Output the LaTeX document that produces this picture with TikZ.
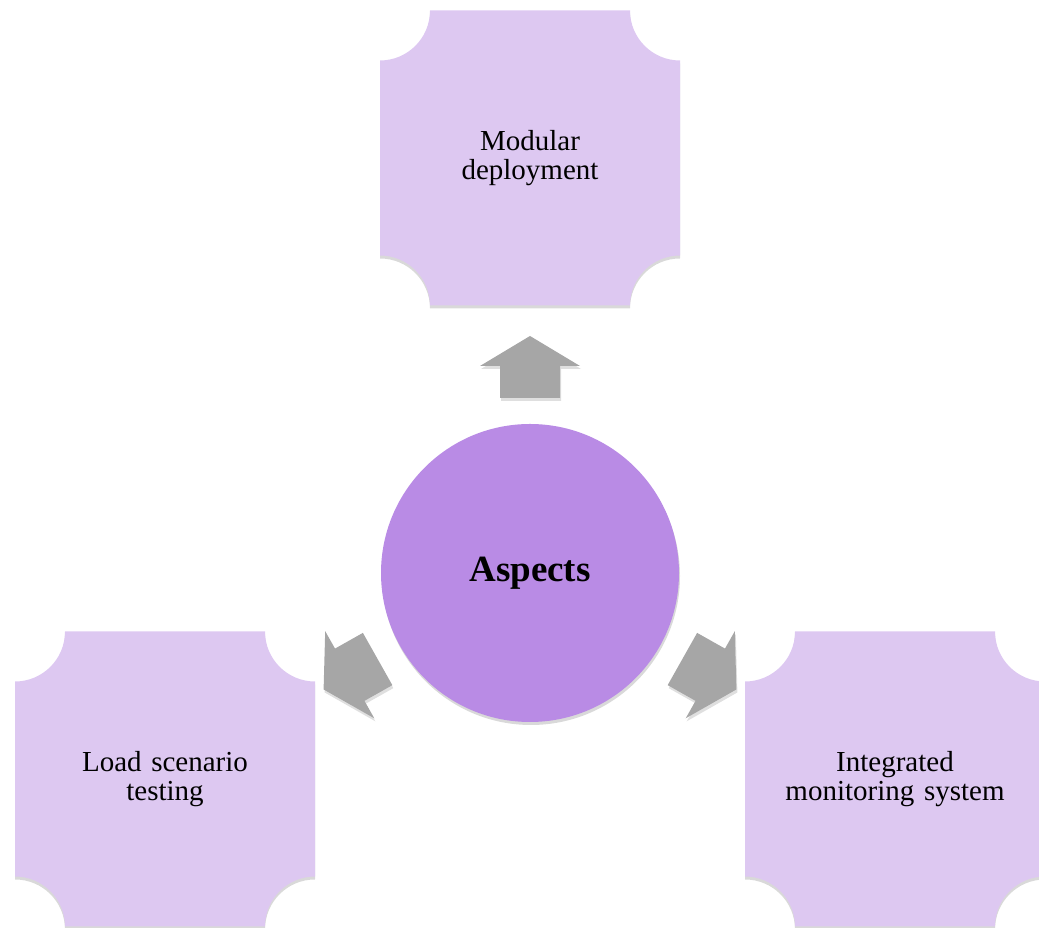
\documentclass[tikz,border=0pt]{standalone}
\usepackage{fontspec}
\setmainfont{Liberation Serif}
\usepackage{tikz}
\usetikzlibrary{calc,backgrounds,shadows}
\usepackage{color}

\definecolor{boxlilac}{RGB}{221,200,241}
\definecolor{hublilac}{RGB}{185,139,229}
\definecolor{arrowgray}{RGB}{166,166,166}

\tikzset{
aspect/.style={rectangle, minimum width=300pt, minimum height=295pt, inner sep=0pt, outer sep=0pt, text width=280pt, align=center, font=\fontsize{29}{29}\selectfont},
hub/.style={circle, fill=hublilac, minimum size=298pt, inner sep=0pt, font=\fontsize{37}{37}\selectfont\bfseries, drop shadow={opacity=0.3, shadow xshift=1pt, shadow yshift=-3pt}},
plaque/.style={fill=boxlilac, drop shadow={opacity=0.3, shadow xshift=0pt, shadow yshift=-3pt}},
bigarrow/.style={fill=arrowgray, drop shadow={opacity=0.25, shadow xshift=1pt, shadow yshift=-3pt}}
}

\begin{document}
\begin{tikzpicture}[x=1pt,y=1pt]
\clip (0,0) rectangle (1039,928);
\node (mod) at (530,770) [aspect] {Modular\\deployment};
\node (load) at (165,149) [aspect] {Load scenario\\testing};
\node (mon) at (895,149) [aspect] {Integrated\\monitoring system};
\node (c) at (530,355) [hub] {Aspects};
\begin{scope}[on background layer]
\foreach \n in {mod,load,mon}
\fill[plaque] ($(\n.north west)+(50pt,0)$) -- ($(\n.north east)+(-50pt,0)$)
arc[start angle=180, end angle=270, radius=50pt] -- ($(\n.south east)+(0,50pt)$)
arc[start angle=90, end angle=180, radius=50pt] -- ($(\n.south west)+(50pt,0)$)
arc[start angle=0, end angle=90, radius=50pt] -- ($(\n.north west)+(0,-50pt)$)
arc[start angle=270, end angle=360, radius=50pt] -- cycle;
\end{scope}
\foreach \n/\a in {mod/90, load/209.4, mon/-29.4}
\fill[bigarrow, shift={($(c)!206pt!(\n)$)}, rotate=\a]
(-31,-30) -- (1,-30) -- (1,-50) -- (31,0) -- (1,50) -- (1,30) -- (-31,30) -- cycle;
\end{tikzpicture}
\end{document}
